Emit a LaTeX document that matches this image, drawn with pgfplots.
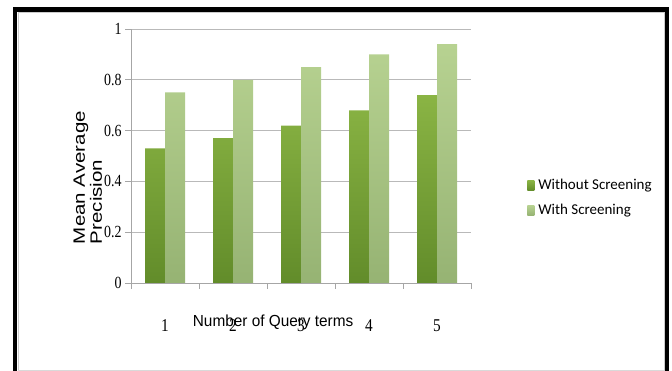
\documentclass[border=0pt]{standalone}
\usepackage{fontspec}
\setmainfont{Liberation Serif}
\newfontfamily\lsans{Liberation Sans}
\newfontfamily\carlito{Carlito}
\usepackage{pgfplots}
\pgfplotsset{compat=1.18}
\definecolor{dkgtop}{HTML}{8AB444}
\definecolor{dkgbot}{HTML}{628C2A}
\definecolor{ltgtop}{HTML}{B7D291}
\definecolor{ltgbot}{HTML}{96B373}
\begin{document}
\begin{tikzpicture}
\useasboundingbox (0pt,0pt) rectangle (672pt,371pt);
\draw[gray!40, line width=1pt] (18pt,-5pt) -- (18pt,358.5pt) -- (664pt,358.5pt) -- (664pt,-5pt);
\draw[gray!30, line width=1pt] (18pt,0.8pt) -- (664pt,0.8pt);
\draw[line width=4.5pt] (15pt,-20pt) -- (15pt,361.5pt) -- (667pt,361.5pt) -- (667pt,-20pt);
\begin{axis}[
  at={(131pt,88pt)}, anchor=south west,
  scale only axis, width=340pt, height=254pt,
  xmin=0.5, xmax=5.5, ymin=0, ymax=1,
  ybar=0pt, bar width=20pt,
  axis x line*=bottom, axis y line*=left,
  axis line style={gray!70, line width=0.8pt},
  ymajorgrids, grid style={gray!55, line width=0.8pt},
  ytick={0,0.2,...,1.0},
  xtick={1,2,3,4,5},
  minor xtick={0.5,1.5,...,5.5},
  major x tick style={draw=none},
  minor x tick style={gray!70, line width=0.8pt},
  minor tick length=6pt,
  major tick length=6pt,
  tick align=outside,
  ytick style={gray!70, line width=0.8pt},
  /pgf/number format/assume math mode=true,
  /pgf/number format/fixed,
  yticklabel style={font=\fontsize{17}{19}\selectfont, xscale=0.82, inner xsep=4pt},
  xticklabel style={font=\fontsize{18}{20}\selectfont, anchor=center, yshift=-37pt, xscale=0.85},
  xlabel={Number of Query terms},
  every axis x label/.style={at={(axis description cs:0.418,-0.154)}, anchor=center,
    font=\lsans\fontsize{16}{18}\selectfont, xscale=0.96},
  ylabel={Mean Average\\Precision},
  every axis y label/.style={at={(axis description cs:-0.127,0.415)}, anchor=center,
    rotate=90, yscale=0.8, align=left, font=\lsans\fontsize{20.5}{21}\selectfont},
  legend style={draw=none, fill=none, at={(axis description cs:1.165,0.335)}, anchor=west,
    font=\carlito\fontsize{15}{17}\selectfont, row sep=9pt, inner xsep=0pt,
    cells={anchor=west}},
  legend image code/.code={\path[#1, draw=none] (0pt,-5pt) rectangle (7pt,5pt); \path (0pt,0pt) -- (9pt,0pt);},
]
\addplot[draw=none, top color=dkgtop, bottom color=dkgbot] coordinates {(1,0.53) (2,0.57) (3,0.62) (4,0.68) (5,0.74)};
\addplot[draw=none, top color=ltgtop, bottom color=ltgbot] coordinates {(1,0.75) (2,0.80) (3,0.85) (4,0.90) (5,0.94)};
\legend{Without Screening, With Screening}
\end{axis}
\end{tikzpicture}
\end{document}
